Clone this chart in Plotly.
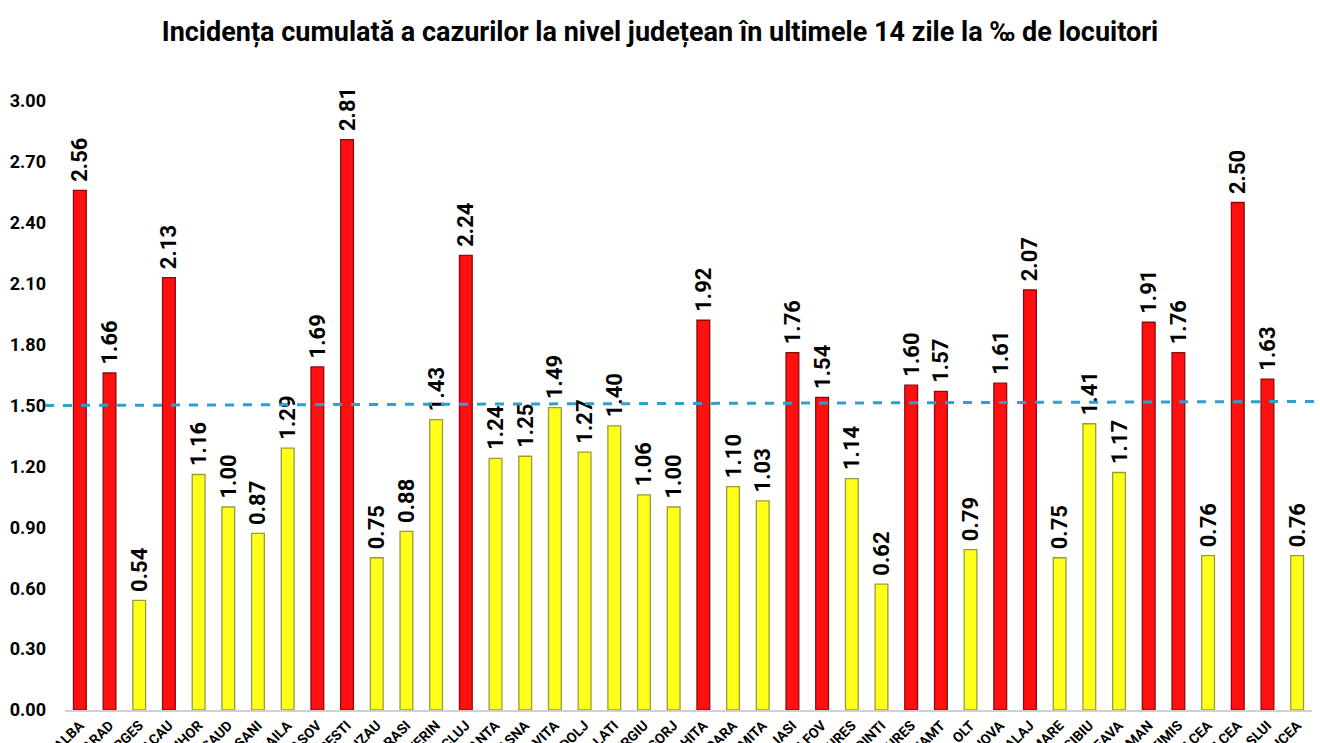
import plotly.graph_objects as go

counties = ["ALBA", "ARAD", "ARGES", "BACAU", "BIHOR", "BISTRITA-NASAUD", "BOTOSANI",
            "BRAILA", "BRASOV", "BUCURESTI", "BUZAU", "CALARASI", "CARAS-SEVERIN", "CLUJ",
            "CONSTANTA", "COVASNA", "DAMBOVITA", "DOLJ", "GALATI", "GIURGIU", "GORJ",
            "HARGHITA", "HUNEDOARA", "IALOMITA", "IASI", "ILFOV", "MARAMURES", "MEHEDINTI",
            "MURES", "NEAMT", "OLT", "PRAHOVA", "SALAJ", "SATU MARE", "SIBIU", "SUCEAVA",
            "TELEORMAN", "TIMIS", "TULCEA", "VALCEA", "VASLUI", "VRANCEA"]
incidence = [2.56, 1.66, 0.54, 2.13, 1.16, 1.00, 0.87, 1.29, 1.69, 2.81, 0.75, 0.88, 1.43,
             2.24, 1.24, 1.25, 1.49, 1.27, 1.40, 1.06, 1.00, 1.92, 1.10, 1.03, 1.76, 1.54,
             1.14, 0.62, 1.60, 1.57, 0.79, 1.61, 2.07, 0.75, 1.41, 1.17, 1.91, 1.76, 0.76,
             2.50, 1.63, 0.76]
threshold = 1.5
threshold_end = 1.52
y_ticks = [0.0, 0.3, 0.6, 0.9, 1.2, 1.5, 1.8, 2.1, 2.4, 2.7, 3.0]

fill = ["#FF0F0F" if v > threshold else "#FFFF1A" for v in incidence]
edge = ["#8E0A0A" if v > threshold else "#9A9A3A" for v in incidence]

fig = go.Figure()
fig.add_trace(go.Bar(
    x=counties, y=incidence,
    marker=dict(color=fill, line=dict(color=edge, width=1.3)),
    text=["\u00a0" + f"{v:.2f}" for v in incidence],
    textposition="outside", textangle=-90, constraintext="none",
    textfont=dict(family="Roboto", size=22, color="black", weight="bold"),
    cliponaxis=False, showlegend=False,
))

fig.add_shape(type="line", xref="paper", yref="y",
              x0=-0.016, x1=1.01, y0=threshold, y1=threshold_end,
              line=dict(color="#2E9FD0", width=3, dash="dash"))

fig.update_layout(
    width=1320, height=743,
    margin=dict(l=65, r=8, t=101, b=33),
    paper_bgcolor="white", plot_bgcolor="white",
    bargap=0.57,
    title=dict(text="<b>Incidența cumulată a cazurilor la nivel județean în ultimele 14 zile la ‰ de locuitori</b>",
               x=0.5, xanchor="center", y=0.958, yanchor="middle",
               font=dict(family="Roboto", size=27, color="black")),
    xaxis=dict(tickangle=-45, automargin=False, showline=True, linecolor="#D0D0D0",
               linewidth=1.5, ticks="", showgrid=False, ticklabelstandoff=0,
               tickfont=dict(family="Roboto", size=14, color="black", weight="bold")),
    yaxis=dict(range=[0, 3.0], tickvals=y_ticks, tickformat=".2f", automargin=False,
               showgrid=False, zeroline=False, showline=False, ticks="",
               ticklabelstandoff=18,
               tickfont=dict(family="Roboto", size=18, color="black", weight="bold")),
)

fig.write_html("out.html")
